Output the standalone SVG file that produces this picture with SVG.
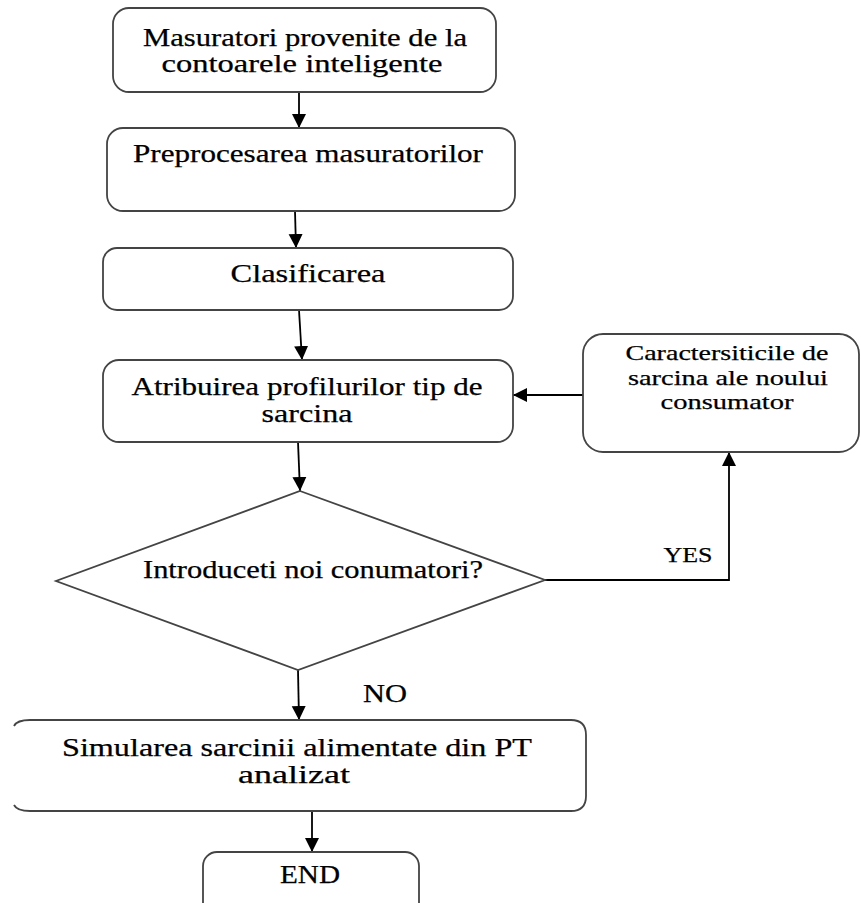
<svg xmlns="http://www.w3.org/2000/svg" width="861" height="903" viewBox="0 0 861 903">
<style>
.box{fill:#fff;stroke:#444;stroke-width:1.8}
.t{font-family:"Liberation Serif","DejaVu Serif","Times New Roman",serif;font-size:25px;fill:#000;text-anchor:middle;stroke:#000;stroke-width:0.25}
.s{font-size:22px}
.c{fill:none;stroke:#000;stroke-width:1.8}
</style>
<defs>
<marker id="ah" markerUnits="userSpaceOnUse" markerWidth="14" markerHeight="16" viewBox="0 0 14 16" refX="14" refY="8" orient="auto">
<path d="M0,1 L14,8 L0,15 Z" fill="#000"/>
</marker>
</defs>
<rect width="861" height="903" fill="#fff"/>
<g id="connectors">
<line class="c" x1="299" y1="92" x2="299" y2="128" marker-end="url(#ah)"/>
<line class="c" x1="295" y1="211" x2="296" y2="248" marker-end="url(#ah)"/>
<line class="c" x1="299" y1="310" x2="302" y2="360" marker-end="url(#ah)"/>
<line class="c" x1="298" y1="442" x2="300" y2="491" marker-end="url(#ah)"/>
<line class="c" x1="298" y1="670" x2="299" y2="720" marker-end="url(#ah)"/>
<line class="c" x1="312" y1="811" x2="312" y2="852" marker-end="url(#ah)"/>
<line class="c" x1="583" y1="395" x2="513" y2="395" marker-end="url(#ah)"/>
<polyline class="c" points="545,580 729,580 729,452" marker-end="url(#ah)"/>
<text class="t" x="385" y="702" textLength="44" lengthAdjust="spacingAndGlyphs">NO</text>
<text class="t s" x="688" y="562" textLength="49" lengthAdjust="spacingAndGlyphs">YES</text>
</g>
<g id="n1">
<rect class="box" x="113" y="8" width="383" height="84" rx="16"/>
<text class="t" x="305" y="46" textLength="324" lengthAdjust="spacingAndGlyphs">Masuratori provenite de la</text>
<text class="t" x="302" y="72" textLength="281" lengthAdjust="spacingAndGlyphs">contoarele inteligente</text>
</g>
<g id="n2">
<rect class="box" x="107" y="128" width="408" height="83" rx="16"/>
<text class="t" x="308" y="162" textLength="350" lengthAdjust="spacingAndGlyphs">Preprocesarea masuratorilor</text>
</g>
<g id="n3">
<rect class="box" x="103" y="248" width="410" height="62" rx="14"/>
<text class="t" x="308" y="282" textLength="155" lengthAdjust="spacingAndGlyphs">Clasificarea</text>
</g>
<g id="n4">
<rect class="box" x="103" y="360" width="410" height="82" rx="16"/>
<text class="t" x="307" y="395" textLength="351" lengthAdjust="spacingAndGlyphs">Atribuirea profilurilor tip de</text>
<text class="t" x="307" y="422" textLength="91" lengthAdjust="spacingAndGlyphs">sarcina</text>
</g>
<g id="n5">
<rect class="box" x="583" y="334" width="276" height="118" rx="20"/>
<text class="t s" x="727" y="360" textLength="203" lengthAdjust="spacingAndGlyphs">Caractersiticile de</text>
<text class="t s" x="728" y="385" textLength="200" lengthAdjust="spacingAndGlyphs">sarcina ale noului</text>
<text class="t s" x="727" y="409" textLength="133" lengthAdjust="spacingAndGlyphs">consumator</text>
</g>
<g id="n6">
<polygon class="box" points="300,491 545,580 298,670 56,581"/>
<text class="t" x="313" y="578" textLength="340" lengthAdjust="spacingAndGlyphs">Introduceti noi conumatori?</text>
</g>
<g id="n7">
<path class="box" d="M14,726 Q17,720 30,720 H571 Q586,720 586,735 V796 Q586,811 571,811 H30 Q17,811 14,805"/>
<text class="t" x="297" y="756" textLength="470" lengthAdjust="spacingAndGlyphs">Simularea sarcinii alimentate din PT</text>
<text class="t" x="294" y="783" textLength="112" lengthAdjust="spacingAndGlyphs">analizat</text>
</g>
<g id="n8">
<rect class="box" x="203" y="852" width="216" height="70" rx="14"/>
<text class="t" x="310" y="883" textLength="60" lengthAdjust="spacingAndGlyphs">END</text>
</g>
</svg>
